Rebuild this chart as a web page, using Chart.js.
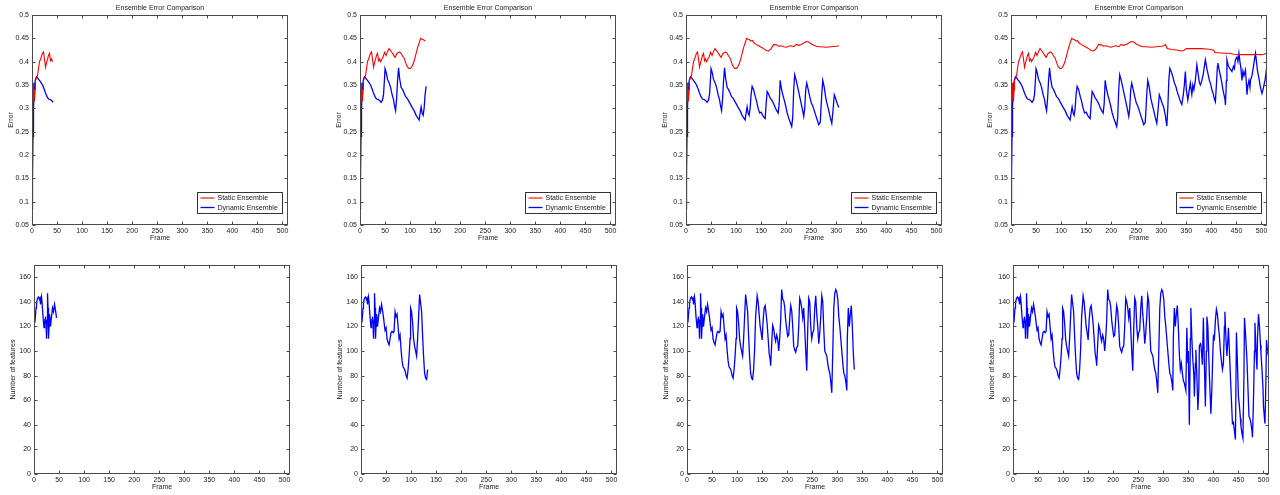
<!DOCTYPE html>
<html>
<head>
<meta charset="utf-8">
<script src="https://cdn.jsdelivr.net/npm/chart.js@4.4.1/dist/chart.umd.min.js"></script>
<style>
body { margin: 0; background: #fff; }
#wrap { position: relative; width: 1280px; height: 495px; overflow: hidden; }
canvas { position: absolute; }
</style>
</head>
<body>
<div id="wrap"></div>
<script>
// static ensemble error (frame, value)
let staticFrames = [0, 1, 2, 3, 4, 5, 6, 7, 9, 11, 13, 15, 17, 19, 21, 23, 25, 27, 29, 31, 33, 35, 37, 39, 41, 43, 46, 49, 52, 55, 58, 61, 64, 67, 70, 73, 76, 79, 82, 85, 88, 91, 94, 97, 100, 103, 106, 109, 112, 115, 118, 121, 124, 127, 130, 133, 136, 140, 145, 150, 155, 160, 165, 170, 175, 180, 185, 190, 195, 200, 205, 210, 215, 220, 225, 230, 235, 240, 245, 250, 255, 260, 265, 270, 280, 290, 300, 305, 308, 312, 320, 330, 340, 345, 350, 360, 370, 380, 390, 400, 405, 407, 415, 425, 435, 445, 455, 465, 475, 485, 490, 495, 500, 505, 510];
let staticError = [0.22, 0.30, 0.335, 0.355, 0.325, 0.315, 0.34, 0.36, 0.365, 0.37, 0.385, 0.40, 0.405, 0.412, 0.418, 0.421, 0.405, 0.388, 0.398, 0.405, 0.414, 0.418, 0.402, 0.406, 0.40, 0.404, 0.41, 0.42, 0.413, 0.422, 0.428, 0.424, 0.419, 0.414, 0.409, 0.416, 0.419, 0.421, 0.418, 0.412, 0.408, 0.398, 0.39, 0.386, 0.385, 0.388, 0.395, 0.405, 0.418, 0.43, 0.44, 0.45, 0.448, 0.447, 0.444, 0.445, 0.44, 0.437, 0.434, 0.431, 0.428, 0.424, 0.423, 0.428, 0.437, 0.436, 0.433, 0.434, 0.432, 0.431, 0.433, 0.434, 0.432, 0.437, 0.435, 0.437, 0.44, 0.443, 0.442, 0.438, 0.435, 0.433, 0.432, 0.432, 0.431, 0.432, 0.433, 0.434, 0.437, 0.428, 0.426, 0.425, 0.423, 0.424, 0.428, 0.428, 0.428, 0.428, 0.427, 0.426, 0.424, 0.419, 0.419, 0.418, 0.418, 0.416, 0.415, 0.415, 0.415, 0.415, 0.416, 0.415, 0.415, 0.416, 0.418];

// dynamic ensemble error (frame, value)
let dynamicFrames = [0, 1, 2, 3, 4, 5, 7, 9, 11, 13, 15, 18, 21, 24, 27, 30, 33, 36, 39, 42, 45, 47, 49, 50, 52, 55, 58, 61, 64, 67, 69, 71, 73, 75, 77, 79, 82, 85, 88, 91, 94, 97, 100, 104, 108, 112, 115, 118, 120, 122, 124, 126, 128, 130, 132, 135, 138, 141, 144, 147, 150, 153, 156, 158, 160, 162, 165, 168, 171, 175, 178, 181, 184, 186, 188, 190, 193, 196, 199, 202, 205, 208, 211, 213, 215, 217, 220, 223, 226, 229, 232, 235, 237, 239, 241, 244, 247, 250, 253, 256, 259, 262, 265, 268, 271, 273, 276, 279, 282, 285, 288, 291, 293, 296, 299, 302, 305, 308, 311, 313, 315, 317, 320, 323, 326, 329, 332, 335, 338, 341, 344, 346, 348, 350, 353, 356, 358, 361, 363, 365, 368, 371, 374, 376, 378, 381, 384, 386, 388, 391, 394, 396, 398, 401, 404, 406, 408, 410, 412, 413, 416, 419, 421, 423, 425, 427, 428, 430, 431, 434, 437, 441, 444, 446, 448, 451, 453, 455, 457, 459, 461, 463, 465, 468, 470, 471, 473, 475, 477, 478, 481, 484, 486, 488, 490, 492, 495, 497, 499, 501, 503, 505, 507, 509, 510];
let dynamicError = [0.085, 0.15, 0.24, 0.30, 0.33, 0.35, 0.362, 0.368, 0.366, 0.362, 0.36, 0.355, 0.35, 0.342, 0.333, 0.325, 0.32, 0.319, 0.317, 0.313, 0.318, 0.33, 0.365, 0.385, 0.378, 0.362, 0.355, 0.345, 0.33, 0.318, 0.305, 0.295, 0.32, 0.36, 0.387, 0.365, 0.345, 0.34, 0.333, 0.325, 0.322, 0.316, 0.31, 0.302, 0.295, 0.285, 0.28, 0.275, 0.29, 0.303, 0.29, 0.285, 0.30, 0.33, 0.347, 0.34, 0.326, 0.315, 0.30, 0.29, 0.292, 0.285, 0.28, 0.278, 0.31, 0.336, 0.33, 0.322, 0.318, 0.31, 0.302, 0.295, 0.29, 0.31, 0.36, 0.345, 0.33, 0.318, 0.305, 0.29, 0.279, 0.27, 0.261, 0.28, 0.34, 0.372, 0.36, 0.345, 0.33, 0.315, 0.30, 0.283, 0.30, 0.34, 0.354, 0.34, 0.325, 0.312, 0.305, 0.295, 0.285, 0.275, 0.265, 0.27, 0.33, 0.36, 0.345, 0.322, 0.308, 0.295, 0.28, 0.268, 0.29, 0.329, 0.32, 0.31, 0.302, 0.285, 0.262, 0.30, 0.36, 0.386, 0.378, 0.368, 0.355, 0.347, 0.335, 0.325, 0.315, 0.308, 0.33, 0.35, 0.379, 0.34, 0.318, 0.34, 0.354, 0.33, 0.35, 0.34, 0.36, 0.393, 0.37, 0.355, 0.35, 0.36, 0.375, 0.39, 0.404, 0.385, 0.37, 0.36, 0.354, 0.34, 0.33, 0.32, 0.314, 0.35, 0.39, 0.397, 0.38, 0.365, 0.354, 0.34, 0.33, 0.32, 0.307, 0.36, 0.404, 0.39, 0.385, 0.379, 0.39, 0.385, 0.404, 0.41, 0.40, 0.418, 0.40, 0.385, 0.36, 0.38, 0.37, 0.382, 0.35, 0.329, 0.35, 0.36, 0.345, 0.36, 0.37, 0.39, 0.405, 0.418, 0.40, 0.38, 0.364, 0.35, 0.34, 0.332, 0.34, 0.35, 0.36, 0.375, 0.386];

// number of features per frame
let featureFrames = [0, 2, 4, 5, 7, 9, 11, 12, 13, 15, 16, 18, 20, 21, 22, 23, 24, 25, 26, 27, 28, 29, 30, 31, 32, 33, 35, 37, 39, 41, 43, 45, 47, 48, 50, 52, 54, 56, 58, 60, 62, 64, 66, 68, 70, 72, 74, 76, 78, 80, 82, 84, 86, 88, 90, 92, 94, 96, 98, 99, 101, 103, 105, 107, 109, 111, 113, 115, 117, 121, 123, 125, 127, 129, 131, 133, 135, 137, 140, 142, 144, 146, 148, 150, 152, 154, 156, 158, 160, 162, 164, 166, 167, 169, 171, 173, 175, 177, 179, 181, 183, 185, 187, 189, 191, 193, 195, 197, 199, 201, 203, 205, 207, 209, 211, 213, 215, 217, 219, 221, 223, 225, 227, 229, 231, 233, 235, 237, 239, 241, 243, 245, 247, 249, 251, 253, 255, 257, 259, 261, 263, 265, 267, 269, 271, 273, 275, 277, 279, 281, 283, 285, 287, 289, 291, 293, 295, 297, 299, 301, 303, 305, 307, 309, 311, 313, 315, 317, 319, 320, 322, 324, 326, 328, 330, 332, 334, 336, 338, 340, 342, 344, 345, 347, 349, 350, 352, 354, 355, 357, 359, 361, 362, 364, 365, 367, 369, 371, 372, 374, 375, 377, 378, 380, 382, 384, 386, 387, 389, 390, 392, 394, 395, 397, 399, 400, 402, 404, 406, 408, 410, 412, 414, 416, 418, 420, 422, 423, 425, 427, 429, 430, 432, 434, 436, 438, 440, 442, 444, 446, 448, 450, 452, 454, 455, 457, 459, 461, 462, 464, 467, 469, 471, 473, 475, 477, 478, 480, 482, 483, 485, 487, 488, 490, 492, 494, 495, 497, 499, 500, 502, 503, 505, 506, 508, 510];
let featureCount = [122, 124, 135, 139, 143, 144, 142, 143, 138, 144, 140, 128, 119, 122, 126, 128, 122, 110, 125, 147, 135, 110, 120, 130, 126, 120, 128, 135, 132, 138, 133, 127, 120, 117, 119, 110, 107, 105, 110, 115, 116, 115, 116, 132, 128, 130, 120, 110, 113, 101, 92, 87, 86, 84, 80, 78, 85, 96, 110, 135, 132, 123, 110, 104, 100, 96, 110, 128, 146, 132, 112, 95, 82, 78, 77, 85, 102, 128, 145, 140, 130, 120, 115, 109, 125, 135, 137, 130, 122, 110, 98, 93, 88, 105, 121, 118, 112, 108, 113, 110, 100, 110, 125, 150, 142, 141, 136, 125, 118, 112, 113, 126, 137, 133, 120, 104, 101, 99, 103, 104, 120, 143, 140, 135, 127, 135, 118, 100, 84, 118, 143, 140, 120, 110, 115, 117, 135, 145, 130, 120, 106, 115, 128, 145, 140, 118, 100, 98, 96, 90, 85, 82, 75, 66, 100, 135, 147, 150, 148, 142, 128, 120, 110, 100, 90, 82, 80, 75, 68, 110, 135, 120, 130, 137, 120, 98, 85, 90, 82, 76, 74, 70, 68, 119, 90, 100, 40, 110, 135, 110, 93, 80, 63, 90, 101, 80, 52, 70, 104, 106, 105, 95, 89, 127, 90, 55, 100, 128, 120, 106, 80, 60, 49, 70, 100, 112, 110, 125, 134, 130, 120, 112, 100, 92, 85, 90, 120, 132, 110, 96, 110, 119, 100, 79, 60, 41, 42, 35, 28, 115, 90, 63, 55, 45, 39, 33, 29, 80, 127, 115, 93, 70, 47, 45, 41, 35, 30, 60, 100, 123, 100, 85, 110, 130, 120, 105, 98, 85, 70, 55, 45, 41, 80, 109, 100, 96];

// each column shows the same run stopped at a later frame
let errorEnd = [42, 132, 305, 510];
let featureEnd = [45, 133, 334, 510];

let frameTicks = [0, 50, 100, 150, 200, 250, 300, 350, 400, 450, 500];
let errorTicks = [0.05, 0.1, 0.15, 0.2, 0.25, 0.3, 0.35, 0.4, 0.45, 0.5];
let featureTicks = [0, 20, 40, 60, 80, 100, 120, 140, 160];

let topLeft = [32, 360, 686, 1011];
let bottomLeft = [34, 361, 687, 1013];

Chart.defaults.font.family = '"Liberation Sans", Arial, sans-serif';
Chart.defaults.font.size = 7;
Chart.defaults.color = '#1a1a1a';

function cut(frames, vals, end) {
    let pts = [];
    for (let i = 0; i < frames.length; i++) {
        if (frames[i] <= end) pts.push({x: frames[i], y: vals[i]});
    }
    return pts;
}

// matlab style box, inward ticks and legend inside the axes
let boxPlugin = {
    id: 'matlabBox',
    afterDraw(chart, args, opts) {
        let ctx = chart.ctx;
        let a = chart.chartArea;
        let l = Math.round(a.left) + 0.5, r = Math.round(a.right) - 0.5;
        let t = Math.round(a.top) + 0.5, b = Math.round(a.bottom) - 0.5;
        ctx.save();
        ctx.strokeStyle = '#4a4a4a';
        ctx.lineWidth = 1;
        ctx.strokeRect(l, t, r - l, b - t);
        ctx.beginPath();
        let xs = chart.scales.x, ys = chart.scales.y;
        xs.ticks.forEach(function (tk) {
            let px = Math.round(xs.getPixelForValue(tk.value)) + 0.5;
            ctx.moveTo(px, b); ctx.lineTo(px, b - 3);
            ctx.moveTo(px, t); ctx.lineTo(px, t + 3);
        });
        ys.ticks.forEach(function (tk) {
            let py = Math.round(ys.getPixelForValue(tk.value)) + 0.5;
            ctx.moveTo(l, py); ctx.lineTo(l + 3, py);
            ctx.moveTo(r, py); ctx.lineTo(r - 3, py);
        });
        ctx.stroke();

        if (opts.legend) {
            let sets = chart.data.datasets;
            ctx.font = '7px "Liberation Sans", Arial, sans-serif';
            let tw = 0;
            sets.forEach(function (d) { tw = Math.max(tw, ctx.measureText(d.label).width); });
            let w = Math.round(20 + tw + 5), h = 21;
            let x = Math.round(r - 6 - w) + 0.5, y = Math.round(b - 12 - h) + 0.5;
            ctx.fillStyle = '#fff';
            ctx.fillRect(x, y, w, h);
            ctx.strokeStyle = '#333';
            ctx.strokeRect(x, y, w, h);
            sets.forEach(function (d, i) {
                let yy = y + 5.5 + i * 9.5;
                ctx.strokeStyle = d.borderColor;
                ctx.lineWidth = d.borderWidth;
                ctx.beginPath();
                ctx.moveTo(x + 3, yy); ctx.lineTo(x + 17, yy);
                ctx.stroke();
                ctx.fillStyle = '#1a1a1a';
                ctx.textBaseline = 'middle';
                ctx.fillText(d.label, x + 20, yy + 0.5);
            });
        }
        ctx.restore();
    }
};

function makePanel(left, top, height, datasets, yOpts, yTitle, withTitle, padTop, padBottom) {
    let cv = document.createElement('canvas');
    cv.width = 346;
    cv.height = height;
    cv.style.left = (left - 45) + 'px';
    cv.style.top = top + 'px';
    document.getElementById('wrap').appendChild(cv);

    new Chart(cv, {
        type: 'line',
        data: {datasets: datasets},
        plugins: [boxPlugin],
        options: {
            responsive: false,
            animation: false,
            events: [],
            layout: {padding: {left: 15, right: 15, top: padTop, bottom: padBottom}},
            elements: {point: {radius: 0}, line: {tension: 0}},
            plugins: {
                legend: {display: false},
                tooltip: {enabled: false},
                title: {
                    display: withTitle,
                    text: 'Ensemble Error Comparison',
                    font: {size: 7, weight: 'normal'},
                    padding: {top: 3.5, bottom: 3.1}
                },
                matlabBox: {legend: withTitle}
            },
            scales: {
                x: {
                    type: 'linear',
                    min: 0,
                    max: 511,
                    grid: {display: false, drawTicks: false},
                    border: {display: false},
                    afterBuildTicks: function (s) {
                        s.ticks = frameTicks.map(function (v) { return {value: v}; });
                    },
                    ticks: {padding: 2, maxRotation: 0, autoSkip: false},
                    title: {display: true, text: 'Frame', padding: 0, font: {size: 7}},
                    afterFit: function (s) { s.height = 17; }
                },
                y: Object.assign({
                    type: 'linear',
                    position: 'left',
                    grid: {display: false, drawTicks: false},
                    border: {display: false},
                    title: {display: true, text: yTitle, padding: {top: 5, bottom: 0}, font: {size: 7}},
                    afterFit: function (s) { s.width = 30; }
                }, yOpts),
                // empty right axis so the title centres over the plot
                y2: {
                    type: 'linear',
                    position: 'right',
                    min: 0,
                    max: 1,
                    grid: {display: false, drawTicks: false},
                    border: {display: false},
                    ticks: {display: false},
                    afterFit: function (s) { s.width = 30; }
                }
            }
        }
    });
}

for (let i = 0; i < 4; i++) {
    makePanel(topLeft[i], 0, 250, [
        {
            label: 'Static Ensemble',
            data: cut(staticFrames, staticError, errorEnd[i]),
            borderColor: '#ff0000',
            borderWidth: 1.1,
            fill: false
        },
        {
            label: 'Dynamic Ensemble',
            data: cut(dynamicFrames, dynamicError, errorEnd[i]),
            borderColor: '#0000ff',
            borderWidth: 1.3,
            fill: false
        }
    ], {
        min: 0.05,
        max: 0.5,
        afterBuildTicks: function (s) {
            s.ticks = errorTicks.map(function (v) { return {value: v}; });
        },
        ticks: {padding: 3, callback: function (v) { return String(+v.toFixed(2)); }}
    }, 'Error', true, 0, 8);

    makePanel(bottomLeft[i], 250, 245, [
        {
            label: 'Features',
            data: cut(featureFrames, featureCount, featureEnd[i]),
            borderColor: '#0000ff',
            borderWidth: 1.3,
            fill: false
        }
    ], {
        min: 0,
        max: 170,
        afterBuildTicks: function (s) {
            s.ticks = featureTicks.map(function (v) { return {value: v}; });
        },
        ticks: {padding: 3}
    }, 'Number of features', false, 15, 4);
}
</script>
</body>
</html>
